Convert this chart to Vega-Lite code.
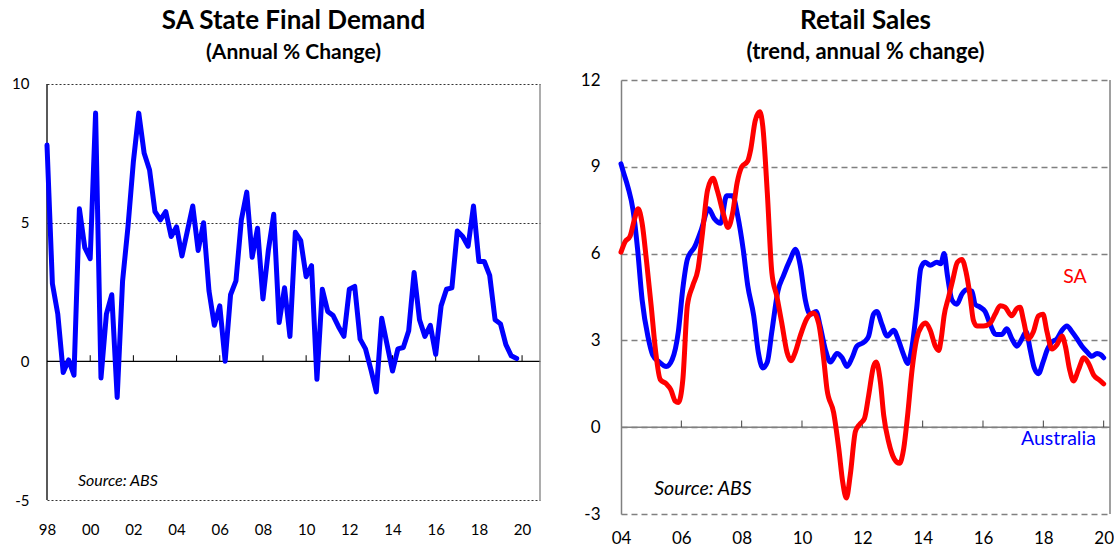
{
  "$schema": "https://vega.github.io/schema/vega-lite/v6.json",
  "padding": {"top": 7, "left": 0, "right": 0, "bottom": 0},
  "background": "white",
  "spacing": 39,
  "config": {
    "font": "Lato",
    "view": {"stroke": null},
    "title": {"font": "Lato", "fontWeight": "bold", "subtitleFont": "Lato", "subtitleFontWeight": "bold", "color": "black", "subtitleColor": "black", "anchor": "middle", "frame": "group"},
    "axis": {"labelFont": "Lato", "labelColor": "black", "title": null, "ticks": false, "labelFlush": false, "labelOverlap": false}
  },
  "hconcat": [
    {
      "width": 493,
      "height": 420,
      "title": {"text": "SA State Final Demand", "subtitle": "(Annual % Change)", "fontSize": 26, "subtitleFontSize": 21, "subtitlePadding": 8, "offset": 14},
      "layer": [
        {
          "data": {"values": [{}]},
          "mark": {"type": "rule", "color": "black", "strokeWidth": 1.3},
          "encoding": {"y": {"datum": 0}}
        },
        {
          "data": {"values": [{"t": 2000}, {"t": 2002}, {"t": 2004}, {"t": 2006}, {"t": 2008}, {"t": 2010}, {"t": 2012}, {"t": 2014}, {"t": 2016}, {"t": 2018}, {"t": 2020}]},
          "mark": {"type": "rule", "color": "black", "strokeWidth": 1},
          "encoding": {"x": {"field": "t", "type": "quantitative"}, "y": {"datum": 0}, "y2": {"datum": 0.22}}
        },
        {
          "data": {"values": [{}]},
          "mark": {"type": "rule", "color": "#808080", "strokeWidth": 1.3},
          "encoding": {"x": {"datum": 2020.83}, "y": {"datum": -5}, "y2": {"datum": 10}}
        },
        {
          "data": {"values": [{}]},
          "mark": {"type": "rule", "color": "black", "strokeWidth": 1.3},
          "encoding": {"x": {"datum": 1998}, "y": {"datum": -5}, "y2": {"datum": 10}}
        },
        {
          "data": {"values": [
            {"t": 1998.00, "v": 7.8}, {"t": 1998.25, "v": 2.8}, {"t": 1998.50, "v": 1.7}, {"t": 1998.75, "v": -0.4},
            {"t": 1999.00, "v": 0.05}, {"t": 1999.25, "v": -0.5}, {"t": 1999.50, "v": 5.5}, {"t": 1999.75, "v": 4.1},
            {"t": 2000.00, "v": 3.7}, {"t": 2000.25, "v": 8.95}, {"t": 2000.50, "v": -0.6}, {"t": 2000.75, "v": 1.7},
            {"t": 2001.00, "v": 2.4}, {"t": 2001.25, "v": -1.3}, {"t": 2001.50, "v": 2.9}, {"t": 2001.75, "v": 4.85},
            {"t": 2002.00, "v": 7.2}, {"t": 2002.25, "v": 8.95}, {"t": 2002.50, "v": 7.5}, {"t": 2002.75, "v": 6.9},
            {"t": 2003.00, "v": 5.4}, {"t": 2003.25, "v": 5.1}, {"t": 2003.50, "v": 5.4}, {"t": 2003.75, "v": 4.5},
            {"t": 2004.00, "v": 4.85}, {"t": 2004.25, "v": 3.8}, {"t": 2004.50, "v": 4.7}, {"t": 2004.75, "v": 5.6},
            {"t": 2005.00, "v": 4.0}, {"t": 2005.25, "v": 5.0}, {"t": 2005.50, "v": 2.55}, {"t": 2005.75, "v": 1.3},
            {"t": 2006.00, "v": 2.0}, {"t": 2006.25, "v": 0.0}, {"t": 2006.50, "v": 2.4}, {"t": 2006.75, "v": 2.9},
            {"t": 2007.00, "v": 5.1}, {"t": 2007.25, "v": 6.1}, {"t": 2007.50, "v": 3.75}, {"t": 2007.75, "v": 4.8},
            {"t": 2008.00, "v": 2.25}, {"t": 2008.25, "v": 4.0}, {"t": 2008.50, "v": 5.3}, {"t": 2008.75, "v": 1.4},
            {"t": 2009.00, "v": 2.65}, {"t": 2009.25, "v": 0.9}, {"t": 2009.50, "v": 4.65}, {"t": 2009.75, "v": 4.35},
            {"t": 2010.00, "v": 3.05}, {"t": 2010.25, "v": 3.45}, {"t": 2010.50, "v": -0.65}, {"t": 2010.75, "v": 2.6},
            {"t": 2011.00, "v": 1.8}, {"t": 2011.25, "v": 1.65}, {"t": 2011.50, "v": 1.25}, {"t": 2011.75, "v": 0.9},
            {"t": 2012.00, "v": 2.6}, {"t": 2012.25, "v": 2.7}, {"t": 2012.50, "v": 0.8}, {"t": 2012.75, "v": 0.45},
            {"t": 2013.00, "v": -0.3}, {"t": 2013.25, "v": -1.1}, {"t": 2013.50, "v": 1.55}, {"t": 2013.75, "v": 0.6},
            {"t": 2014.00, "v": -0.35}, {"t": 2014.25, "v": 0.45}, {"t": 2014.50, "v": 0.5}, {"t": 2014.75, "v": 1.1},
            {"t": 2015.00, "v": 3.2}, {"t": 2015.25, "v": 1.5}, {"t": 2015.50, "v": 0.9}, {"t": 2015.75, "v": 1.3},
            {"t": 2016.00, "v": 0.25}, {"t": 2016.25, "v": 2.0}, {"t": 2016.50, "v": 2.6}, {"t": 2016.75, "v": 2.65},
            {"t": 2017.00, "v": 4.7}, {"t": 2017.25, "v": 4.5}, {"t": 2017.50, "v": 4.15}, {"t": 2017.75, "v": 5.6},
            {"t": 2018.00, "v": 3.6}, {"t": 2018.25, "v": 3.6}, {"t": 2018.50, "v": 3.1}, {"t": 2018.75, "v": 1.5},
            {"t": 2019.00, "v": 1.35}, {"t": 2019.25, "v": 0.6}, {"t": 2019.50, "v": 0.2}, {"t": 2019.75, "v": 0.1}
          ]},
          "mark": {"type": "line", "color": "#0000FF", "strokeWidth": 5, "strokeJoin": "round", "strokeCap": "round"},
          "encoding": {
            "x": {"field": "t", "type": "quantitative", "scale": {"domain": [1998, 2020.83], "nice": false, "zero": false},
                  "axis": {"values": [1998, 2000, 2002, 2004, 2006, 2008, 2010, 2012, 2014, 2016, 2018, 2020], "labelExpr": "substring(toString(datum.value), 2, 4)", "domain": false, "grid": false, "labelPadding": 22, "labelFontSize": 15}},
            "y": {"field": "v", "type": "quantitative", "scale": {"domain": [-5, 10.144], "nice": false, "zero": false},
                  "axis": {"values": [-5, 0, 5, 10], "labelExpr": "toString(datum.value)", "grid": true, "gridColor": "#333333", "gridDash": [2, 2], "gridWidth": 1, "domain": false, "labelPadding": 18, "labelFontSize": 15, "minExtent": 47, "maxExtent": 47}}
          }
        },
        {
          "data": {"values": [{}]},
          "mark": {"type": "text", "text": "Source: ABS", "fontStyle": "italic", "fontSize": 16, "align": "left", "baseline": "middle", "color": "black"},
          "encoding": {"x": {"datum": 1999.43}, "y": {"datum": -4.3}}
        }
      ]
    },
    {
      "width": 489,
      "height": 434,
      "title": {"text": "Retail Sales", "subtitle": "(trend, annual % change)", "fontSize": 26, "subtitleFontSize": 22, "subtitlePadding": 8, "offset": 8},
      "layer": [
        {
          "data": {"values": [{}]},
          "mark": {"type": "rule", "color": "#808080", "strokeWidth": 1.5},
          "encoding": {"y": {"datum": 0}}
        },
        {
          "data": {"values": [{"t": 2006}, {"t": 2008}, {"t": 2010}, {"t": 2012}, {"t": 2014}, {"t": 2016}, {"t": 2018}, {"t": 2020}]},
          "mark": {"type": "rule", "color": "#404040", "strokeWidth": 1},
          "encoding": {"x": {"field": "t", "type": "quantitative"}, "y": {"datum": 0}, "y2": {"datum": 0.23}}
        },
        {
          "data": {"values": [{}]},
          "mark": {"type": "rule", "color": "#808080", "strokeWidth": 1.5},
          "encoding": {"x": {"datum": 2020.21}}
        },
        {
          "data": {"values": [
            {"t": 2004.0, "v": 9.1}, {"t": 2004.07, "v": 8.85}, {"t": 2004.23, "v": 8.3}, {"t": 2004.4, "v": 7.5},
            {"t": 2004.55, "v": 6.15}, {"t": 2004.7, "v": 4.4}, {"t": 2004.9, "v": 3.1}, {"t": 2005.05, "v": 2.5},
            {"t": 2005.27, "v": 2.25}, {"t": 2005.5, "v": 2.1}, {"t": 2005.7, "v": 2.35}, {"t": 2005.9, "v": 3.3},
            {"t": 2006.05, "v": 4.8}, {"t": 2006.2, "v": 5.8}, {"t": 2006.45, "v": 6.25}, {"t": 2006.67, "v": 6.85},
            {"t": 2006.9, "v": 7.55}, {"t": 2007.1, "v": 7.2}, {"t": 2007.3, "v": 7.05}, {"t": 2007.5, "v": 8.0},
            {"t": 2007.7, "v": 8.0}, {"t": 2007.87, "v": 7.3}, {"t": 2008.05, "v": 6.15}, {"t": 2008.2, "v": 4.9},
            {"t": 2008.4, "v": 3.85}, {"t": 2008.55, "v": 2.6}, {"t": 2008.7, "v": 2.05}, {"t": 2008.85, "v": 2.25},
            {"t": 2009.0, "v": 3.3}, {"t": 2009.2, "v": 4.7}, {"t": 2009.39, "v": 5.25}, {"t": 2009.61, "v": 5.8},
            {"t": 2009.78, "v": 6.15}, {"t": 2009.94, "v": 5.6}, {"t": 2010.11, "v": 4.4}, {"t": 2010.27, "v": 3.9},
            {"t": 2010.47, "v": 4.0}, {"t": 2010.6, "v": 3.5}, {"t": 2010.77, "v": 2.7}, {"t": 2010.94, "v": 2.25},
            {"t": 2011.16, "v": 2.55}, {"t": 2011.33, "v": 2.4}, {"t": 2011.49, "v": 2.1}, {"t": 2011.66, "v": 2.4},
            {"t": 2011.82, "v": 2.8}, {"t": 2012.07, "v": 2.95}, {"t": 2012.21, "v": 3.15}, {"t": 2012.37, "v": 3.9},
            {"t": 2012.48, "v": 4.0}, {"t": 2012.65, "v": 3.55}, {"t": 2012.82, "v": 3.15}, {"t": 2013.04, "v": 3.35},
            {"t": 2013.2, "v": 3.0}, {"t": 2013.37, "v": 2.5}, {"t": 2013.5, "v": 2.2}, {"t": 2013.65, "v": 2.8},
            {"t": 2013.8, "v": 4.1}, {"t": 2013.94, "v": 5.5}, {"t": 2014.08, "v": 5.7}, {"t": 2014.25, "v": 5.6},
            {"t": 2014.47, "v": 5.7}, {"t": 2014.6, "v": 5.65}, {"t": 2014.71, "v": 6.0}, {"t": 2014.82, "v": 5.25},
            {"t": 2014.97, "v": 4.4}, {"t": 2015.13, "v": 4.25}, {"t": 2015.3, "v": 4.6}, {"t": 2015.46, "v": 4.75},
            {"t": 2015.63, "v": 4.7}, {"t": 2015.74, "v": 4.25}, {"t": 2015.9, "v": 4.15}, {"t": 2016.07, "v": 4.0},
            {"t": 2016.24, "v": 3.55}, {"t": 2016.43, "v": 3.2}, {"t": 2016.62, "v": 3.2}, {"t": 2016.79, "v": 3.4},
            {"t": 2016.96, "v": 3.05}, {"t": 2017.12, "v": 2.8}, {"t": 2017.29, "v": 3.05}, {"t": 2017.43, "v": 3.3},
            {"t": 2017.56, "v": 2.7}, {"t": 2017.7, "v": 2.05}, {"t": 2017.84, "v": 1.85}, {"t": 2017.99, "v": 2.25},
            {"t": 2018.14, "v": 2.7}, {"t": 2018.29, "v": 2.95}, {"t": 2018.45, "v": 3.05}, {"t": 2018.62, "v": 3.35},
            {"t": 2018.78, "v": 3.5}, {"t": 2018.95, "v": 3.3}, {"t": 2019.12, "v": 3.05}, {"t": 2019.28, "v": 2.8},
            {"t": 2019.45, "v": 2.6}, {"t": 2019.61, "v": 2.45}, {"t": 2019.78, "v": 2.55}, {"t": 2019.91, "v": 2.5},
            {"t": 2020.0, "v": 2.4}
          ]},
          "mark": {"type": "line", "color": "#0000FF", "strokeWidth": 5, "interpolate": "monotone", "strokeJoin": "round", "strokeCap": "round"},
          "encoding": {
            "x": {"field": "t", "type": "quantitative", "scale": {"domain": [2004, 2020.21], "nice": false, "zero": false},
                  "axis": {"values": [2004, 2006, 2008, 2010, 2012, 2014, 2016, 2018, 2020], "labelExpr": "substring(toString(datum.value), 2, 4)", "domain": false, "grid": false, "labelPadding": 16, "labelFontSize": 17}},
            "y": {"field": "v", "type": "quantitative", "scale": {"domain": [-3, 12], "nice": false, "zero": false},
                  "axis": {"values": [-3, 0, 3, 6, 9, 12], "labelExpr": "toString(datum.value)", "grid": true, "gridColor": "#808080", "gridDash": [6, 4], "gridWidth": 1.5, "domainColor": "#808080", "domainWidth": 1.5, "labelPadding": 21, "labelFontSize": 17, "minExtent": 40, "maxExtent": 40}}
          }
        },
        {
          "data": {"values": [
            {"t": 2004.0, "v": 6.05}, {"t": 2004.13, "v": 6.4}, {"t": 2004.3, "v": 6.6}, {"t": 2004.45, "v": 7.2},
            {"t": 2004.57, "v": 7.55}, {"t": 2004.7, "v": 7.05}, {"t": 2004.85, "v": 5.7}, {"t": 2005.0, "v": 4.2},
            {"t": 2005.15, "v": 2.6}, {"t": 2005.3, "v": 1.65}, {"t": 2005.5, "v": 1.5}, {"t": 2005.65, "v": 1.3},
            {"t": 2005.8, "v": 0.9}, {"t": 2005.9, "v": 0.85}, {"t": 2006.05, "v": 1.65}, {"t": 2006.2, "v": 4.2},
            {"t": 2006.38, "v": 4.9}, {"t": 2006.55, "v": 5.45}, {"t": 2006.7, "v": 6.7}, {"t": 2006.87, "v": 8.2},
            {"t": 2007.05, "v": 8.6}, {"t": 2007.2, "v": 8.15}, {"t": 2007.4, "v": 7.35}, {"t": 2007.55, "v": 6.9},
            {"t": 2007.7, "v": 7.4}, {"t": 2007.85, "v": 8.45}, {"t": 2008.0, "v": 9.0}, {"t": 2008.2, "v": 9.2},
            {"t": 2008.3, "v": 9.6}, {"t": 2008.45, "v": 10.6}, {"t": 2008.6, "v": 10.9}, {"t": 2008.7, "v": 10.4},
            {"t": 2008.85, "v": 8.1}, {"t": 2009.0, "v": 5.35}, {"t": 2009.17, "v": 4.5}, {"t": 2009.33, "v": 3.6},
            {"t": 2009.5, "v": 2.6}, {"t": 2009.63, "v": 2.3}, {"t": 2009.78, "v": 2.6}, {"t": 2009.94, "v": 3.15},
            {"t": 2010.16, "v": 3.75}, {"t": 2010.38, "v": 3.95}, {"t": 2010.55, "v": 3.6}, {"t": 2010.72, "v": 2.35},
            {"t": 2010.83, "v": 1.3}, {"t": 2011.05, "v": 0.5}, {"t": 2011.22, "v": -0.75}, {"t": 2011.35, "v": -1.9},
            {"t": 2011.47, "v": -2.45}, {"t": 2011.6, "v": -1.65}, {"t": 2011.77, "v": -0.15}, {"t": 2011.91, "v": 0.1},
            {"t": 2012.07, "v": 0.3}, {"t": 2012.21, "v": 1.1}, {"t": 2012.37, "v": 2.1}, {"t": 2012.46, "v": 2.25},
            {"t": 2012.6, "v": 1.55}, {"t": 2012.71, "v": 0.4}, {"t": 2012.87, "v": -0.5}, {"t": 2013.06, "v": -1.1},
            {"t": 2013.23, "v": -1.25}, {"t": 2013.37, "v": -0.75}, {"t": 2013.5, "v": 0.4}, {"t": 2013.65, "v": 2.0},
            {"t": 2013.8, "v": 3.05}, {"t": 2013.97, "v": 3.5}, {"t": 2014.1, "v": 3.6}, {"t": 2014.25, "v": 3.35},
            {"t": 2014.42, "v": 2.8}, {"t": 2014.53, "v": 2.65}, {"t": 2014.62, "v": 3.1}, {"t": 2014.71, "v": 3.85},
            {"t": 2014.86, "v": 4.5}, {"t": 2015.0, "v": 5.1}, {"t": 2015.15, "v": 5.7}, {"t": 2015.3, "v": 5.8},
            {"t": 2015.44, "v": 5.35}, {"t": 2015.57, "v": 4.55}, {"t": 2015.68, "v": 3.7}, {"t": 2015.8, "v": 3.5},
            {"t": 2016.02, "v": 3.5}, {"t": 2016.24, "v": 3.6}, {"t": 2016.4, "v": 3.9}, {"t": 2016.57, "v": 4.2},
            {"t": 2016.73, "v": 4.15}, {"t": 2016.95, "v": 3.85}, {"t": 2017.12, "v": 4.1}, {"t": 2017.23, "v": 4.15},
            {"t": 2017.34, "v": 3.7}, {"t": 2017.5, "v": 3.05}, {"t": 2017.67, "v": 3.3}, {"t": 2017.84, "v": 3.85},
            {"t": 2017.99, "v": 3.9}, {"t": 2018.12, "v": 3.3}, {"t": 2018.29, "v": 2.7}, {"t": 2018.45, "v": 2.85},
            {"t": 2018.62, "v": 3.15}, {"t": 2018.73, "v": 2.8}, {"t": 2018.87, "v": 2.0}, {"t": 2019.0, "v": 1.6},
            {"t": 2019.17, "v": 2.0}, {"t": 2019.34, "v": 2.4}, {"t": 2019.5, "v": 2.2}, {"t": 2019.67, "v": 1.8},
            {"t": 2019.83, "v": 1.65}, {"t": 2020.0, "v": 1.5}
          ]},
          "mark": {"type": "line", "color": "#FF0000", "strokeWidth": 5, "interpolate": "monotone", "strokeJoin": "round", "strokeCap": "round"},
          "encoding": {
            "x": {"field": "t", "type": "quantitative"},
            "y": {"field": "v", "type": "quantitative"}
          }
        },
        {
          "data": {"values": [{}]},
          "mark": {"type": "text", "text": "SA", "fontSize": 19.5, "align": "center", "baseline": "middle", "color": "#FF0000"},
          "encoding": {"x": {"datum": 2019.05}, "y": {"datum": 5.2}}
        },
        {
          "data": {"values": [{}]},
          "mark": {"type": "text", "text": "Australia", "fontSize": 19.5, "align": "center", "baseline": "middle", "color": "#0000FF"},
          "encoding": {"x": {"datum": 2018.5}, "y": {"datum": -0.4}}
        },
        {
          "data": {"values": [{}]},
          "mark": {"type": "text", "text": "Source: ABS", "fontStyle": "italic", "fontSize": 19.5, "align": "left", "baseline": "middle", "color": "black"},
          "encoding": {"x": {"datum": 2005.1}, "y": {"datum": -2.13}}
        }
      ]
    }
  ]
}
